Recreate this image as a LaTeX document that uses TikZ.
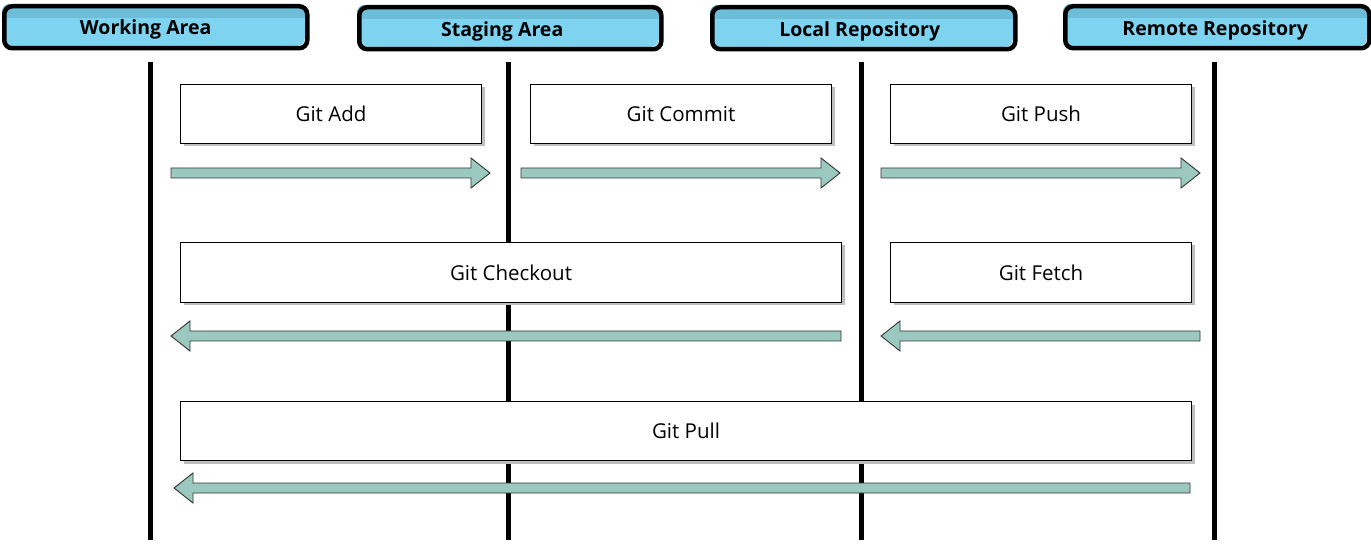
\documentclass[tikz,border=0pt]{standalone}
\usepackage{fontspec}
\setmainfont{Open Sans}
\usetikzlibrary{calc,shadows}
\definecolor{hdrtop}{HTML}{6DBCD8}
\definecolor{hdrfill}{HTML}{7ED3F0}
\definecolor{arrfill}{HTML}{9CC9BF}
\definecolor{shadowgray}{HTML}{BFBFBF}
\tikzset{
  header/.style={draw=black, line width=4.5pt, rounded corners=8pt, inner sep=0pt},
  hdrtext/.style={font=\bfseries\fontsize{19.5}{22}\selectfont},
  cmdbox/.style={draw=black, line width=1pt, fill=white, inner sep=0pt,
    font=\fontsize{20.5}{24}\selectfont,
    drop shadow={shadow xshift=3pt, shadow yshift=-3pt, fill=shadowgray, opacity=1}},
  lifeline/.style={line width=5pt, black},
  barrow/.style={draw=black!80, line width=0.9pt, fill=arrfill, line join=miter},
}
\newcommand{\blockarrow}[2]{%
  \draw[barrow] let \p1=(#1), \p2=(#2), \n1={sign(\x2-\x1)} in
    (\x1,\y1+5pt) -- (\x2-\n1*19pt,\y1+5pt) -- (\x2-\n1*19pt,\y1+15pt) -- (\x2,\y1)
    -- (\x2-\n1*19pt,\y1-15pt) -- (\x2-\n1*19pt,\y1-5pt) -- (\x1,\y1-5pt) -- cycle;}
\begin{document}
\begin{tikzpicture}[x=1pt,y=-1pt]
\useasboundingbox (0,0) rectangle (1371,545);
% headers
\foreach \nm/\xa/\ya/\xb/\yb/\txt/\dx/\dy in {wa/2/4/305/46/Working Area/-10/2, sa/357/5/659/47/Staging Area/-8/3, lr/710/5/1013/47/Local Repository/-4/3, rr/1063/4/1367/46/Remote Repository/-2/3}{
  \begin{scope}
  \clip[rounded corners=8pt] (\xa,\ya) rectangle (\xb,\yb);
  \fill[hdrfill] (\xa,\ya) rectangle (\xb,\yb);
  \fill[hdrtop] (\xa,\ya) rectangle (\xb,\ya+14);
  \end{scope}
  \node[header, minimum width=\xb-\xa, minimum height=\yb-\ya, anchor=north west] (\nm) at (\xa,\ya) {};
  \node[hdrtext] at ($(\nm.center)+(\dx,\dy)$) {\txt};
}
% lifelines
\foreach \nm/\x in {wa/150, sa/508, lr/861, rr/1214}{
  \coordinate (\nm top) at (\x,62);
  \coordinate (\nm bot) at (\x,540);
  \draw[lifeline] (\nm top) -- (\nm bot);
}
% command boxes
\node[cmdbox, minimum width=301, minimum height=59, anchor=north west] (add) at (180,84) {Git Add};
\node[cmdbox, minimum width=301, minimum height=59, anchor=north west] (commit) at (530,84) {Git Commit};
\node[cmdbox, minimum width=301, minimum height=59, anchor=north west] (push) at (890,84) {Git Push};
\node[cmdbox, minimum width=661, minimum height=60, anchor=north west] (checkout) at (180,242) {Git Checkout};
\node[cmdbox, minimum width=301, minimum height=60, anchor=north west] (fetch) at (890,242) {Git Fetch};
\node[cmdbox, minimum width=1011, minimum height=59, anchor=north west] (pull) at (180,401) {Git Pull};
% arrows
\coordinate (addS) at (171,173); \coordinate (addE) at (490,173);
\coordinate (comS) at (521,173); \coordinate (comE) at (840,173);
\coordinate (pushS) at (881,173); \coordinate (pushE) at (1200,173);
\coordinate (coS) at (841,336); \coordinate (coE) at (171,336);
\coordinate (feS) at (1200,336); \coordinate (feE) at (881,336);
\coordinate (plS) at (1190,488); \coordinate (plE) at (174,488);
\blockarrow{addS}{addE}
\blockarrow{comS}{comE}
\blockarrow{pushS}{pushE}
\blockarrow{coS}{coE}
\blockarrow{feS}{feE}
\blockarrow{plS}{plE}
\end{tikzpicture}
\end{document}
